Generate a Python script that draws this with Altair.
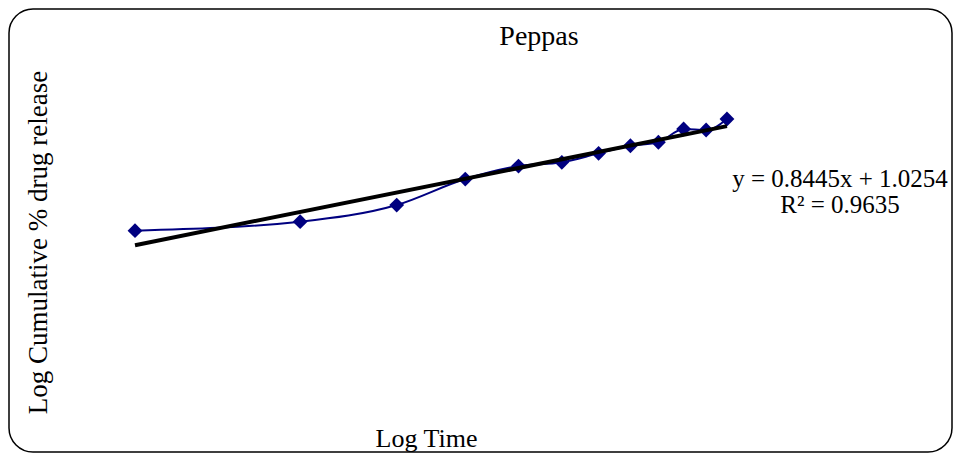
import altair as alt
import pandas as pd

# Data
log_time = [0.000, 0.301, 0.477, 0.602, 0.699, 0.778, 0.845, 0.903, 0.954, 1.000, 1.041, 1.079]
log_release = [1.129, 1.199, 1.328, 1.530, 1.631, 1.660, 1.730, 1.789, 1.816, 1.919, 1.911, 1.997]
title_text = ["Peppas"]
x_title = "Log Time"
y_title = "Log Cumulative % drug release"
equation_lines = ["y = 0.8445x + 1.0254", "R² = 0.9635"]

df = pd.DataFrame({"x": log_time, "y": log_release})

W, H = 943, 443
FONT = "Liberation Serif"
NAVY = "#000080"

xs = alt.Scale(domain=[-0.2297, 1.4892], nice=False, zero=False)
ys = alt.Scale(domain=[-0.5907, 2.8514], nice=False, zero=False)

xax = alt.Axis(title=x_title, labels=False, ticks=False, domain=False, grid=False,
               titleFont=FONT, titleFontSize=26, titleFontWeight="normal", titleColor="black",
               titleX=417, titleY=-6, titleBaseline="alphabetic", titleAlign="center")
yax = alt.Axis(title=y_title, labels=False, ticks=False, domain=False, grid=False,
               titleFont=FONT, titleFontSize=27, titleFontWeight="normal", titleColor="black",
               titleX=37, titleY=233, titleAngle=270, titleBaseline="alphabetic", titleAlign="center")

base = alt.Chart(df).encode(
    x=alt.X("x:Q", scale=xs, axis=xax),
    y=alt.Y("y:Q", scale=ys, axis=yax),
)

line = base.mark_line(color=NAVY, strokeWidth=2, interpolate="monotone")
points = base.mark_point(shape="diamond", filled=True, size=220, color=NAVY, opacity=1)
trend = base.transform_regression("x", "y", method="linear").mark_line(color="black", strokeWidth=4)

eq = alt.Chart(alt.Data(values=[{"eq": equation_lines}])).mark_text(
    font=FONT, fontSize=25, color="black", align="center", baseline="alphabetic", lineHeight=26
).encode(
    x=alt.value(831), y=alt.value(178), text="eq:N"
)

ttl = alt.Chart(alt.Data(values=[{"t": title_text[0]}])).mark_text(
    font=FONT, fontSize=28, color="black", align="center", baseline="alphabetic"
).encode(
    x=alt.value(530), y=alt.value(36), text="t:N"
)

chart = alt.layer(line, points, trend, eq, ttl).properties(
    width=W, height=H,
    autosize=alt.AutoSizeParams(type="none"),
    padding={"left": 1, "top": 1, "right": 1, "bottom": 1},
    background="white",
).configure_view(
    stroke="black", strokeWidth=1.5, cornerRadius=24, fill="white"
)

chart.save("out.html", embed_options={"renderer": "svg", "actions": False})
